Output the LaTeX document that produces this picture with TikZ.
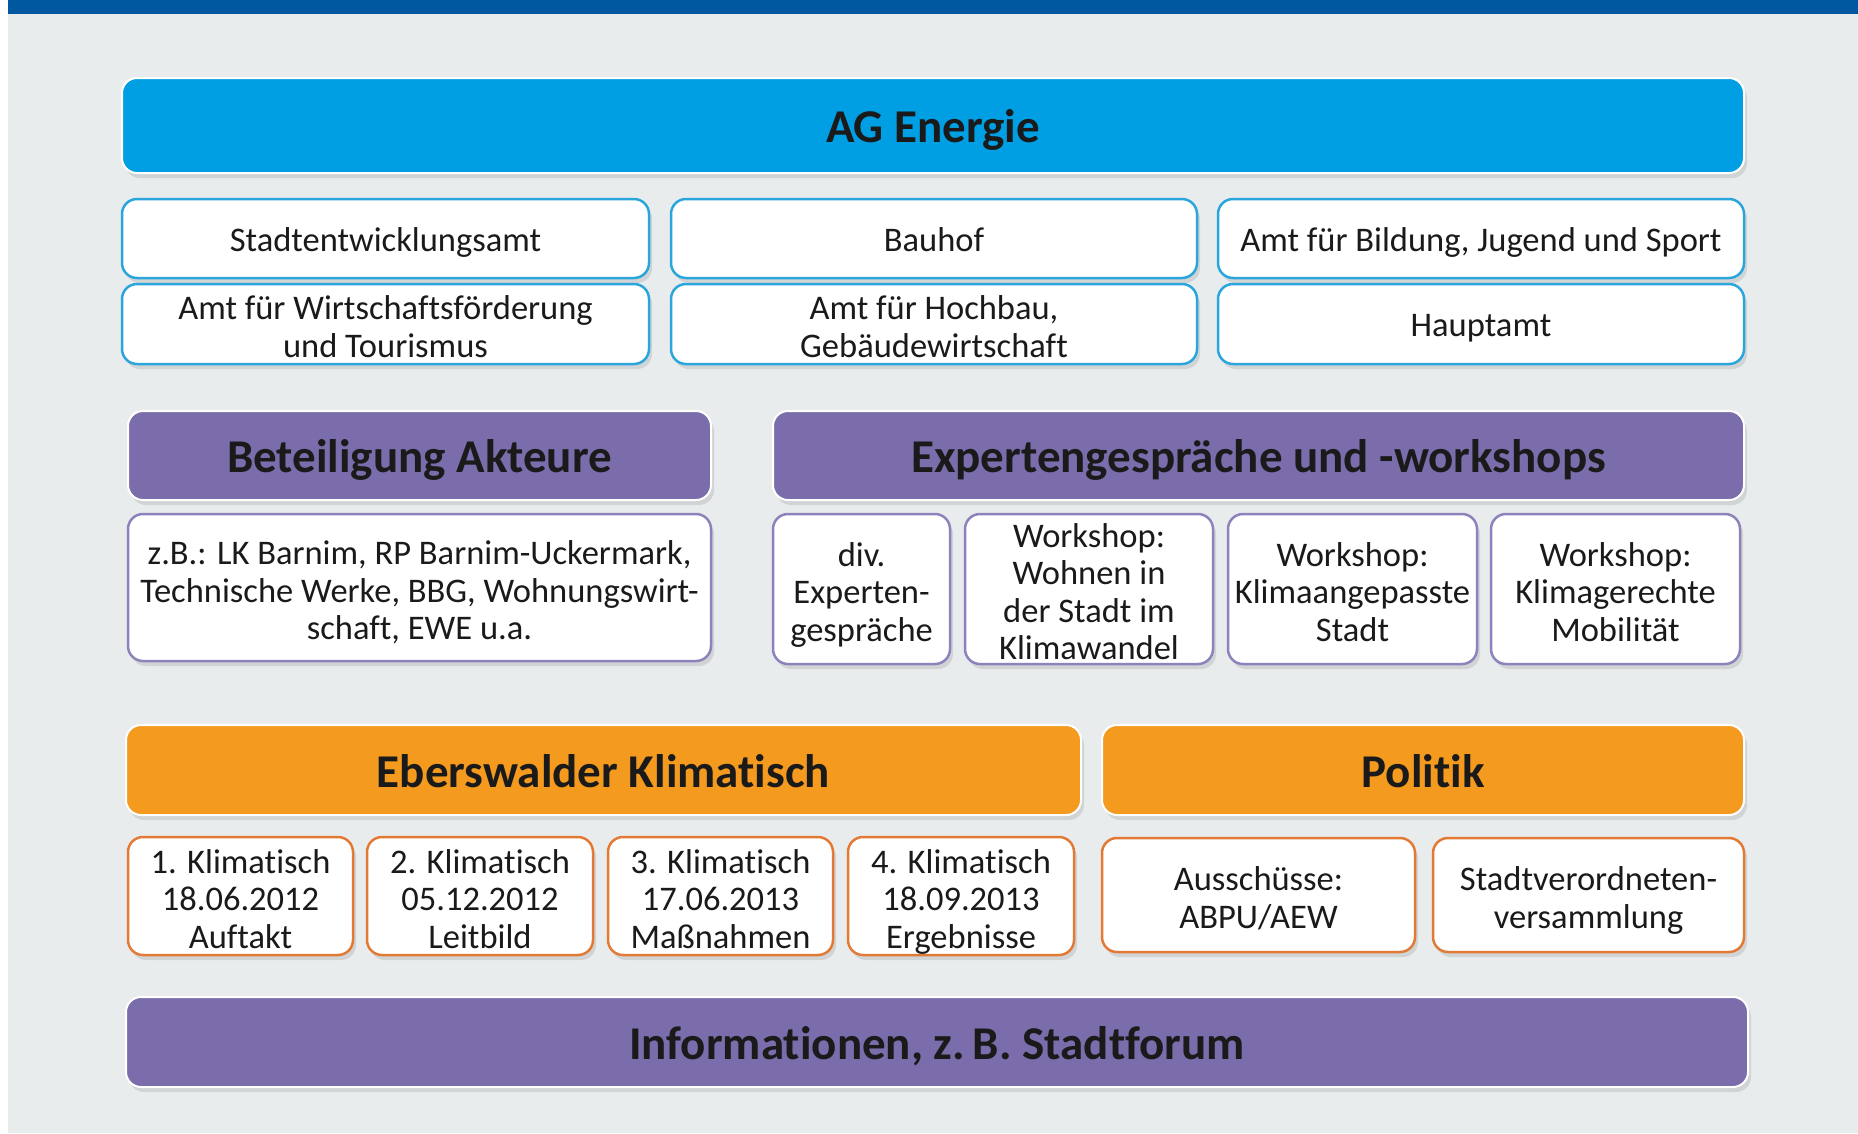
\documentclass[tikz,border=0pt]{standalone}
\usepackage{fontspec}
\setmainfont[Ligatures=NoCommon]{Carlito}
\usetikzlibrary{shadows}

\definecolor{agblue}{HTML}{009FE3}
\definecolor{agblueline}{HTML}{2AA6DD}
\definecolor{stripe}{HTML}{0058A0}
\definecolor{lila}{HTML}{7B6CAB}
\definecolor{lilaline}{HTML}{8C82BC}
\definecolor{orange}{HTML}{F39A1F}
\definecolor{orangeline}{HTML}{E27A36}
\definecolor{paper}{HTML}{E9ECEC}
\definecolor{ink}{HTML}{1A1A1A}

\tikzset{
  box/.style={rounded corners=15pt, align=center, inner sep=0pt, text=ink, text depth=0pt,
    drop shadow={shadow xshift=3pt, shadow yshift=-5pt, opacity=0.22}},
  kopf/.style={box, draw=white, line width=2pt, text height=34pt, font=\bfseries\fontsize{47}{50}\selectfont},
  feld/.style={box, fill=white, line width=2.5pt, text height=25pt, font=\fontsize{34.5}{37.5}\selectfont},
  zweizeilig/.style={text height=66.5pt},
  dreizeilig/.style={text height=104pt},
  vierzeilig/.style={text height=141.5pt},
  bluehead/.style={kopf, fill=agblue},
  lilahead/.style={kopf, fill=lila},
  orangehead/.style={kopf, fill=orange},
  bluebox/.style={feld, draw=agblueline},
  lilabox/.style={feld, draw=lilaline},
  orangebox/.style={feld, draw=orangeline}
}

\begin{document}
\begin{tikzpicture}[x=1pt, y=-1pt]
            \useasboundingbox (0,0) rectangle (1858,1133);
            \fill[white] (0,0) rectangle (1858,1133);
            \fill[paper] (8,0) rectangle (1858,1133);
            \fill[stripe] (8,0) rectangle (1858,14);

            \node[bluehead, minimum width=1622pt, minimum height=95pt] (AG) at (933, 125.5) {AG Energie};

            \node[bluebox, minimum width=527pt, minimum height=79pt] (Stadtentw) at (385.5, 238.5) {Stadtentwicklungsamt};
            \node[bluebox, minimum width=526pt, minimum height=79pt] (Bauhof) at (934, 238.5) {Bauhof};
            \node[bluebox, minimum width=526pt, minimum height=79pt] (Bildung) at (1481, 238.5) {Amt für Bildung, Jugend und Sport};
            \node[bluebox, zweizeilig, minimum width=527pt, minimum height=80pt] (Wirtschaft) at (385.5, 324) {Amt für Wirtschaftsförderung\\und Tourismus};
            \node[bluebox, zweizeilig, minimum width=526pt, minimum height=80pt] (Hochbau) at (934, 324) {Amt für Hochbau,\\Gebäudewirtschaft};
            \node[bluebox, minimum width=526pt, minimum height=80pt] (Hauptamt) at (1481, 324) {Hauptamt};

            \node[lilahead, minimum width=583pt, minimum height=89pt] (Akteure) at (419.5, 455.5) {Beteiligung Akteure};
            \node[lilahead, minimum width=971pt, minimum height=89pt] (Experten) at (1258.5, 455.5) {Expertengespräche und -workshops};

            \node[lilabox, dreizeilig, minimum width=583pt, minimum height=147pt] (Beispiele) at (419.5, 587.5) {z.B.: LK Barnim, RP Barnim-Uckermark,\\Technische Werke, BBG, Wohnungswirt-\\schaft, EWE u.a.};
            \node[lilabox, dreizeilig, minimum width=177pt, minimum height=150pt] (Gespraeche) at (861.5, 589) {div.\\Experten-\\gespräche};
            \node[lilabox, vierzeilig, minimum width=248pt, minimum height=150pt] (Wohnen) at (1089, 589) {Workshop:\\Wohnen in\\der Stadt im\\Klimawandel};
            \node[lilabox, dreizeilig, minimum width=249pt, minimum height=150pt] (Angepasst) at (1352.5, 589) {Workshop:\\Klimaangepasste\\Stadt};
            \node[lilabox, dreizeilig, minimum width=249pt, minimum height=150pt] (Mobil) at (1615.5, 589) {Workshop:\\Klimagerechte\\Mobilität};

            \node[orangehead, minimum width=955pt, minimum height=90pt] (Klimatisch) at (603.5, 770) {Eberswalder Klimatisch};
            \node[orangehead, minimum width=642pt, minimum height=90pt] (Politik) at (1423, 770) {Politik};

            \node[orangebox, dreizeilig, minimum width=225pt, minimum height=118pt] (KT1) at (240.5, 896) {1. Klimatisch\\18.06.2012\\Auftakt};
            \node[orangebox, dreizeilig, minimum width=226pt, minimum height=118pt] (KT2) at (480, 896) {2. Klimatisch\\05.12.2012\\Leitbild};
            \node[orangebox, dreizeilig, minimum width=225pt, minimum height=118pt] (KT3) at (720.5, 896) {3. Klimatisch\\17.06.2013\\Maßnahmen};
            \node[orangebox, dreizeilig, minimum width=226pt, minimum height=118pt] (KT4) at (961, 896) {4. Klimatisch\\18.09.2013\\Ergebnisse};
            \node[orangebox, zweizeilig, minimum width=313pt, minimum height=114pt] (Ausschuesse) at (1258.5, 895) {Ausschüsse:\\ABPU/AEW};
            \node[orangebox, zweizeilig, minimum width=311pt, minimum height=114pt] (SVV) at (1588.5, 895) {Stadtverordneten-\\versammlung};

            \node[lilahead, minimum width=1622pt, minimum height=90pt] (Info) at (937, 1042) {Informationen, z.\,B. Stadtforum};

        \end{tikzpicture}
\end{document}
